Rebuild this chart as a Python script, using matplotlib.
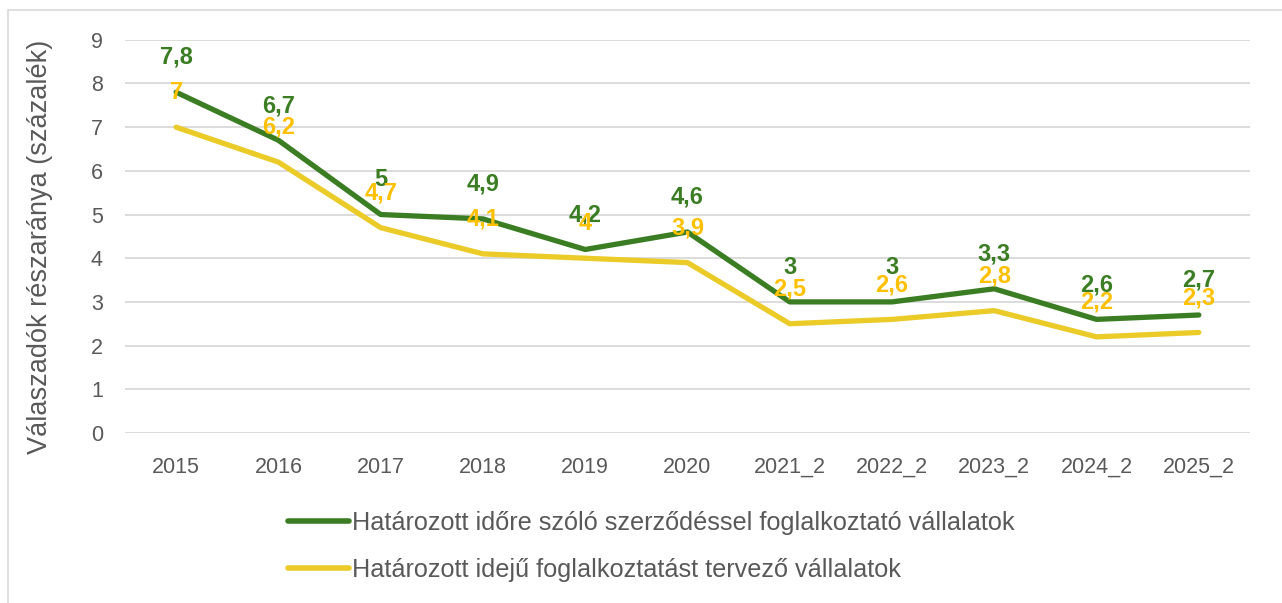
import matplotlib.pyplot as plt
from matplotlib.patches import Rectangle

years = ['2015', '2016', '2017', '2018', '2019', '2020', '2021_2', '2022_2', '2023_2', '2024_2', '2025_2']
fixed_term = [7.8, 6.7, 5.0, 4.9, 4.2, 4.6, 3.0, 3.0, 3.3, 2.6, 2.7]
planned = [7.0, 6.2, 4.7, 4.1, 4.0, 3.9, 2.5, 2.6, 2.8, 2.2, 2.3]
names = ['Határozott időre szóló szerződéssel foglalkoztató vállalatok',
         'Határozott idejű foglalkoztatást tervező vállalatok']

green = '#3A7D22'
yellow = '#EBCB27'
yellow_txt = '#FFC000'
grey = '#595959'

plt.rcParams['font.family'] = ['Liberation Sans', 'DejaVu Sans']

fig = plt.figure(figsize=(12.82, 6.03), dpi=100)
ax = fig.add_axes([0.0975, 0.282, 0.8775, 0.652])

x = range(len(years))
ax.plot(x, fixed_term, color=green, lw=3.8, solid_capstyle='round', label=names[0], zorder=3)
ax.plot(x, planned, color=yellow, lw=3.8, solid_capstyle='round', label=names[1], zorder=2)


def fmt(v):
    return ('%g' % v).replace('.', ',')


for i, v in enumerate(fixed_term):
    ax.annotate(fmt(v), (i, v), xytext=(0, 25), textcoords='offset points',
                ha='center', va='center', color=green, fontsize=17, fontweight='bold', zorder=5)
for i, v in enumerate(planned):
    ax.annotate(fmt(v), (i, v), xytext=(0, 25), textcoords='offset points',
                ha='center', va='center', color=yellow_txt, fontsize=17, fontweight='bold', zorder=5)

ax.set_xlim(-0.5, len(years) - 0.5)
ax.set_ylim(0, 9)
ax.set_yticks(range(10))
ax.set_xticks(list(x))
ax.set_xticklabels(years)
ax.grid(axis='y', color='#D9D9D9', lw=1.3)
ax.set_axisbelow(True)
for s in ax.spines.values():
    s.set_visible(False)
ax.tick_params(length=0, labelsize=15.5, colors=grey)
ax.tick_params(axis='x', pad=17)
ax.tick_params(axis='y', pad=16)
ax.set_ylabel('Válaszadók részaránya (százalék)', fontsize=19.5, color=grey)
ax.yaxis.set_label_coords(-0.064, 0.473)

leg = fig.legend(loc='upper left', bbox_to_anchor=(288 / 1282, 1 - 511 / 603), ncol=1, frameon=False,
                 fontsize=18.2, handlelength=2.4, handletextpad=0.15, labelspacing=0.92,
                 borderpad=0, borderaxespad=0, labelcolor=grey)
for h in leg.get_lines():
    h.set_linewidth(4)

fig.patches.append(Rectangle((0.006, -0.01), 0.996, 0.993, transform=fig.transFigure,
                             fill=False, edgecolor='#D9D9D9', lw=1.2))

fig.savefig('out.png', dpi=100)
